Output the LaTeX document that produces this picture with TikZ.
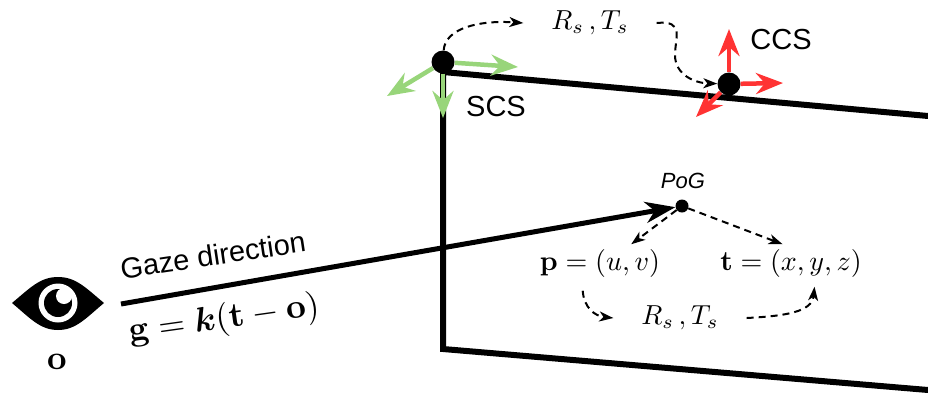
\documentclass[tikz,border=0pt]{standalone}
\usepackage{amsmath}
\usepackage{bm}
\usepackage[no-math]{fontspec}
\setmainfont{Liberation Sans}
\usetikzlibrary{arrows.meta}
\definecolor{scsgreen}{HTML}{98D57A}
\definecolor{ccsred}{HTML}{FF3333}
\tikzset{
  screenline/.style={line width=6pt},
  bigdot/.style={circle,fill=black,minimum size=23pt,inner sep=0pt},
  axisarrow/.style={line width=4.5pt,-{Stealth[length=27pt,width=21pt,inset=9pt]}},
  dashlink/.style={line width=2pt,dash pattern=on 7pt off 5pt,-{Stealth[length=14pt,width=10pt,inset=4pt]}},
  rslabel/.style={inner sep=10pt,scale=2.75},
  mathlabel/.style={inner sep=0pt,minimum height=13pt,scale=2.8},
  sanslabel/.style={inner sep=0pt,font=\fontsize{29}{29}\selectfont}
}
\begin{document}
\begin{tikzpicture}[x=1pt,y=-1pt]
\useasboundingbox (0,0) rectangle (928,392);
% Screen
\draw[screenline] (928,116) -- (443,72) -- (443,349) -- (928,390);
% Origins
\node[bigdot] (scs) at (443,62) {};
\node[bigdot] (ccs) at (729,84) {};
\node[circle,fill=black,minimum size=13pt,inner sep=0pt] (pog) at (682,206) {};
% Axes
\coordinate (scsx) at (518,67);
\coordinate (scsy) at (443,118);
\coordinate (scsz) at (387,96);
\coordinate (ccsx) at (783,83);
\coordinate (ccsy) at (729,29);
\coordinate (ccsz) at (696,117);
\draw[axisarrow,scsgreen] (scs) -- (scsx);
\draw[axisarrow,scsgreen] (scs) -- (scsy);
\draw[axisarrow,scsgreen] (scs) -- (scsz);
\draw[axisarrow,ccsred] (ccs) -- (ccsx);
\draw[axisarrow,ccsred] (ccs) -- (ccsy);
\draw[axisarrow,ccsred] (ccs) -- (ccsz);
\node[sanslabel] (scslabel) at (496,107) {SCS};
\node[sanslabel] (ccslabel) at (781,40) {CCS};
\node[inner sep=0pt,font=\fontsize{22}{22}\selectfont\itshape] (poglabel) at (683,181) {PoG};
% Transformation labels
\node[rslabel] (rstop) at (590,23) {$R_s\,,T_s$};
\node[rslabel] (rsbottom) at (680,318) {$R_s\,,T_s$};
\node[mathlabel] (plabel) at (600,263) {$\mathbf{p}=(u,v)$};
\node[mathlabel] (tlabel) at (791,263) {$\mathbf{t}=(x,y,z)$};
% Dashed links
\draw[dashlink] (scs) .. controls (445,28) and (480,20) .. (rstop.west);
\draw[dashlink] (rstop.east) .. controls (685,20) and (675,38) .. (675,55) .. controls (675,75) and (695,83) .. (ccs);
\draw[dashlink] (pog) -- (plabel.31);
\draw[dashlink] (pog) -- (tlabel.114);
\draw[dashlink,shorten <=9pt] (plabel.south-|582,0) .. controls (584,308) and (595,316) .. (rsbottom.west);
\draw[dashlink,shorten >=5pt] (rsbottom.east) .. controls (785,316) and (812,312) .. (tlabel.south-|815,0);
% Gaze
\coordinate (gazestart) at (121,304);
\draw[line width=5pt,-{Stealth[length=30pt,width=21pt,inset=9pt]}] (gazestart) -- (pog);
\node[sanslabel,rotate=8.5] (gazelabel) at (213,255) {Gaze direction};
\node[inner sep=0pt,rotate=8,scale=3.45] (gazeeq) at (224,320) {$\mathbf{g}=\bm{k}(\mathbf{t}-\mathbf{o})$};
% Eye
\fill (12,303) .. controls (30,288) and (40,277) .. (58,277) .. controls (76,277) and (86,288) .. (104,303)
  .. controls (86,318) and (76,330) .. (58,330) .. controls (40,330) and (30,318) .. (12,303) -- cycle;
\fill[white] (58,303) circle (19.5);
\fill (58,303) circle (14);
\fill[white] (64,296) circle (8);
\node[inner sep=0pt,scale=3.4] (eyelabel) at (57,362) {$\mathbf{o}$};
\end{tikzpicture}
\end{document}
